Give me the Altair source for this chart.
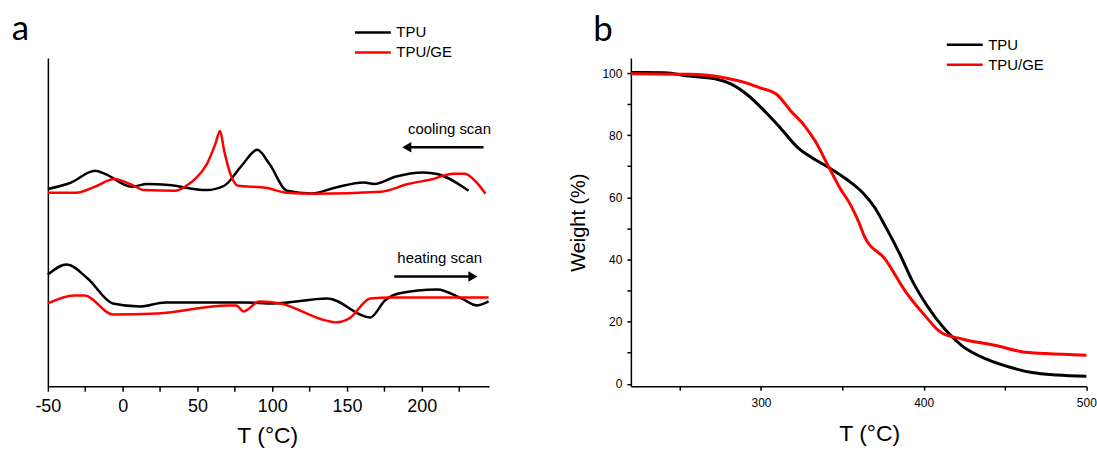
import altair as alt
import pandas as pd

# ---------------- Panel a : DSC curves (arbitrary heat-flow units) ----------------
cool_tpu_T = [-50, -34.8, -18.5, -11.5, 6, 16.5, 30.5, 56.2, 67.9, 79.5, 90, 98.2, 109.9, 126.2, 142.6, 161.2, 168.2, 182.2, 200.9, 210.3, 231.3]
cool_tpu_v = [197.7, 204, 216, 212.7, 200, 202.7, 201.7, 196.7, 201, 221, 237, 222.7, 196, 193.3, 199.3, 204.3, 202.7, 210, 214.3, 212.7, 196]

cool_ge_T = [-50, -31, -18.5, -5.6, 6, 14.2, 35.4, 44.5, 49.2, 56.4, 62, 65.1, 67.9, 72.5, 77.2, 95.6, 109.6, 128.5, 172.6, 191.5, 205.5, 221.6, 228.6, 235.6, 242.6]
cool_ge_v = [194, 194, 200, 207.7, 202, 196.7, 196, 203, 209, 223, 243, 256, 236, 211, 201, 199, 194, 193, 195, 203, 207, 213, 213, 206, 193]

heat_tpu_T = [-50, -37.4, -23.4, -6.6, 11.6, 28.4, 81.6, 100.5, 136.9, 165.6, 175.4, 184.5, 210.4, 226.5, 237, 244.7]
heat_tpu_v = [112, 122, 108, 83, 80, 84, 84, 83, 88, 69, 86, 93, 97, 88, 81, 85]

heat_ge_T = [-50, -32.5, -25.5, -6.6, 23.5, 70.4, 76, 80.9, 91.4, 105.4, 135.5, 142.5, 151.6, 165.6, 179.6, 244.7]
heat_ge_v = [83, 91, 91, 72, 73, 81, 81, 75, 85, 83, 66, 64, 68, 88, 89, 89]

# ---------------- Panel b : TGA curves ----------------
tga_tpu_T = [220, 240.8, 255.9, 273, 281.7, 292.5, 303.2, 311.8, 322.6, 331.2, 341.9, 352.6, 363.4, 369.9, 376.3, 384.9, 393.5, 402.1, 412.9, 423.6, 438.7, 453.7, 466.6, 481.7, 500]
tga_tpu_w = [100.2, 100.1, 99, 98, 96.4, 92.6, 87.2, 82.4, 76, 72.8, 69.5, 65.8, 61, 56.7, 50.8, 42.2, 32.6, 25.1, 17.6, 12.2, 7.9, 5.2, 3.6, 2.8, 2.4]

tga_ge_T = [220, 255.9, 277.4, 290.3, 298.9, 309.7, 318.3, 326.8, 333.3, 341.9, 348.4, 354.8, 360.2, 363.4, 376.3, 389.2, 400, 410.7, 423.6, 445.2, 460.2, 475.2, 500]
tga_ge_w = [99.8, 99.6, 98.5, 96.9, 95.3, 93.1, 87.8, 83, 78.1, 69.5, 63.1, 57.8, 51.9, 47.6, 40.1, 29.4, 22.4, 16.5, 14.4, 12.2, 10.3, 9.7, 9.2]

series_names = ["TPU", "TPU/GE"]
series_colors = ["#000000", "#ff0000"]


def frame(T, v, series, scan):
    return pd.DataFrame({"T": T, "v": v, "series": series, "key": series + " " + scan})


df_a = pd.concat([
    frame(cool_tpu_T, cool_tpu_v, "TPU", "cool"),
    frame(cool_ge_T, cool_ge_v, "TPU/GE", "cool"),
    frame(heat_tpu_T, heat_tpu_v, "TPU", "heat"),
    frame(heat_ge_T, heat_ge_v, "TPU/GE", "heat"),
], ignore_index=True)

df_b = pd.concat([
    pd.DataFrame({"T": tga_tpu_T, "w": tga_tpu_w, "series": "TPU"}),
    pd.DataFrame({"T": tga_ge_T, "w": tga_ge_w, "series": "TPU/GE"}),
], ignore_index=True)

FONT = "Liberation Sans"


def legend(x, y):
    return alt.Legend(
        orient="none", legendX=x, legendY=y, title=None,
        symbolType="M-4,0L4,0", symbolSize=81, symbolStrokeWidth=2.5,
        labelOffset=16, rowPadding=4, padding=0,
        labelFont=FONT, labelFontSize=15, labelColor="black",
    )


color_scale = alt.Scale(domain=series_names, range=series_colors)

xa_scale = alt.Scale(domain=[-50, 245], nice=False, zero=False)
ya_scale = alt.Scale(domain=[0, 329], nice=False, zero=False)

lines_a = alt.Chart(df_a).mark_line(strokeWidth=2.5, interpolate="monotone").encode(
    x=alt.X("T:Q", scale=xa_scale, axis=alt.Axis(
        values=list(range(-50, 226, 25)),
        labelExpr="datum.value % 50 == 0 ? toString(datum.value) : ''",
        labelFlush=False,
        title="T (°C)", grid=False,
        domainColor="black", domainWidth=1.5, tickColor="black", tickWidth=1.5, tickSize=5,
        labelFont=FONT, labelFontSize=18, labelColor="black", labelPadding=6,
        titleFont=FONT, titleFontSize=23, titleFontWeight="normal", titleColor="black",
        titleX=220, titleY=56, titleBaseline="alphabetic", titleAlign="center",
    )),
    y=alt.Y("v:Q", scale=ya_scale, axis=alt.Axis(
        title=None, labels=False, ticks=False, grid=False,
        domainColor="black", domainWidth=1.5,
    )),
    color=alt.Color("series:N", scale=color_scale, legend=legend(318.4, -33.2)),
    detail="key:N",
)

# scan-direction annotations (data coordinates)
cool_arrow = alt.Chart(pd.DataFrame({"T": [190.0], "T2": [241.3], "v": [239.7]})).mark_rule(
    strokeWidth=2.5, color="black").encode(x=alt.X("T:Q", scale=xa_scale), x2="T2:Q", y=alt.Y("v:Q", scale=ya_scale))
cool_head = alt.Chart(pd.DataFrame({"T": [190.0], "v": [239.7]})).mark_point(
    shape="triangle-left", filled=True, size=110, color="black", opacity=1).encode(
    x=alt.X("T:Q", scale=xa_scale), y=alt.Y("v:Q", scale=ya_scale))
cool_text = alt.Chart(pd.DataFrame({"T": [218.5], "v": [257.4], "t": ["cooling scan"]})).mark_text(
    font=FONT, fontSize=15, color="black", baseline="middle").encode(
    x=alt.X("T:Q", scale=xa_scale), y=alt.Y("v:Q", scale=ya_scale), text="t:N")

heat_arrow = alt.Chart(pd.DataFrame({"T": [181.6], "T2": [234.2], "v": [110.0]})).mark_rule(
    strokeWidth=2.5, color="black").encode(x=alt.X("T:Q", scale=xa_scale), x2="T2:Q", y=alt.Y("v:Q", scale=ya_scale))
heat_head = alt.Chart(pd.DataFrame({"T": [234.2], "v": [110.0]})).mark_point(
    shape="triangle-right", filled=True, size=110, color="black", opacity=1).encode(
    x=alt.X("T:Q", scale=xa_scale), y=alt.Y("v:Q", scale=ya_scale))
heat_text = alt.Chart(pd.DataFrame({"T": [212.0], "v": [129.0], "t": ["heating scan"]})).mark_text(
    font=FONT, fontSize=15, color="black", baseline="middle").encode(
    x=alt.X("T:Q", scale=xa_scale), y=alt.Y("v:Q", scale=ya_scale), text="t:N")

label_a = alt.Chart(pd.DataFrame({"lab": ["a"]})).mark_text(
    align="left", baseline="top", font="Lato", fontSize=35, color="black").encode(
    x=alt.value(-36.3), y=alt.value(-46.05), text="lab:N")

panel_a = alt.layer(lines_a, cool_arrow, cool_head, cool_text, heat_arrow, heat_head, heat_text, label_a).properties(
    width=442.4, height=329)

# ---------------- panel b ----------------
xb_scale = alt.Scale(domain=[220, 500], nice=False, zero=False)
yb_scale = alt.Scale(domain=[-0.8, 104.8], nice=False, zero=False)

lines_b = alt.Chart(df_b).mark_line(strokeWidth=3, interpolate="monotone").encode(
    x=alt.X("T:Q", scale=xb_scale, axis=alt.Axis(
        values=list(range(250, 501, 50)),
        labelExpr="datum.value % 100 == 0 ? toString(datum.value) : ''",
        labelFlush=False,
        title="T (°C)", grid=False,
        domainColor="black", domainWidth=1.5, tickColor="black", tickWidth=1.5, tickSize=4,
        labelFont=FONT, labelFontSize=12, labelColor="black", labelPadding=7,
        titleFont=FONT, titleFontSize=23, titleFontWeight="normal", titleColor="black",
        titleX=239, titleY=54, titleBaseline="alphabetic", titleAlign="center",
    )),
    y=alt.Y("w:Q", scale=yb_scale, axis=alt.Axis(
        values=list(range(0, 101, 10)),
        labelExpr="datum.value % 20 == 0 ? toString(datum.value) : ''",
        title="Weight (%)", grid=False,
        domainColor="black", domainWidth=1.5, tickColor="black", tickWidth=1.5, tickSize=4,
        labelFont=FONT, labelFontSize=12, labelColor="black", labelPadding=5,
        titleFont=FONT, titleFontSize=20, titleFontWeight="normal", titleColor="black",
        titleX=-47, titleY=164.5, titleAngle=-90, titleBaseline="alphabetic", titleAlign="center",
    )),
    color=alt.Color("series:N", scale=color_scale, legend=legend(327.3, -20.9)),
)

label_b = alt.Chart(pd.DataFrame({"lab": ["b"]})).mark_text(
    align="left", baseline="top", font="Lato", fontSize=35, color="black").encode(
    x=alt.value(-37.8), y=alt.value(-45.05), text="lab:N")

panel_b = alt.layer(lines_b, label_b).properties(width=456.7, height=329)

chart = alt.hconcat(panel_a, panel_b, spacing=141.6, bounds="flush").resolve_scale(
    color="independent").resolve_legend(color="independent").properties(
    padding={"left": 11, "top": 10.65, "right": 0, "bottom": 0},
    autosize=alt.AutoSizeParams(type="pad"),
    background="white",
).configure_view(stroke=None)

chart.save("out.html", embed_options={"renderer": "svg", "actions": False})
